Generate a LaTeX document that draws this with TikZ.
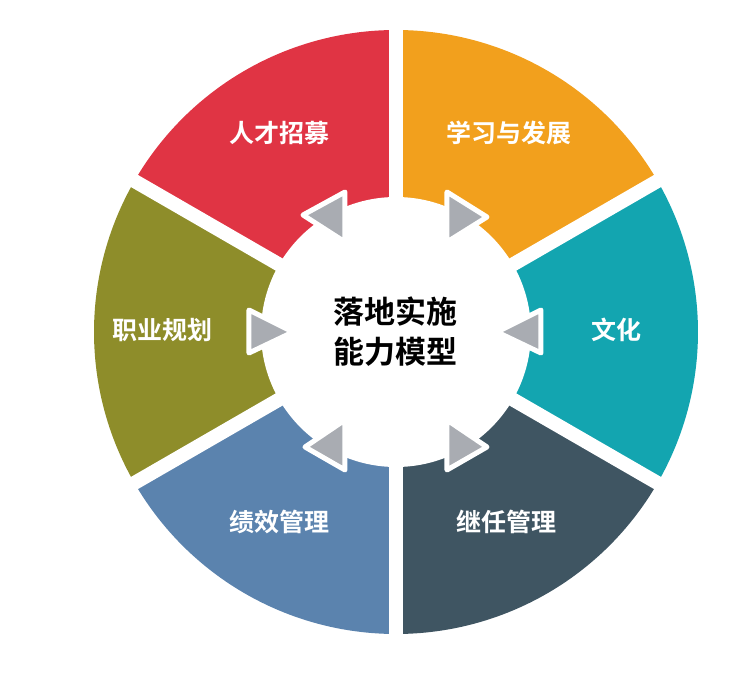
\documentclass[tikz,border=0pt]{standalone}
\usepackage{fontspec}
\newfontfamily\cjk{Noto Sans CJK SC Bold}
\definecolor{segred}{HTML}{E03444}
\definecolor{segorange}{HTML}{F2A01D}
\definecolor{segteal}{HTML}{13A5B0}
\definecolor{segdark}{HTML}{3F5562}
\definecolor{segblue}{HTML}{5B83AE}
\definecolor{segolive}{HTML}{8E8D2A}
\definecolor{tri}{HTML}{A9ACB2}
\tikzset{
  seglabel/.style={text=white,font=\cjk\fontsize{25}{30}\selectfont},
  tribox/.style={fill=tri,draw=white,line width=5pt,line join=round}
}
\begin{document}
\begin{tikzpicture}[x=1pt,y=1pt]
            \useasboundingbox (-396,-345) rectangle (336,332);
            % ring segments
            \foreach \a/\c in {30/segorange,90/segred,150/segolive,210/segblue,270/segdark,330/segteal}
                \fill[\c] (\a:302) arc[start angle=\a,delta angle=60,radius=302] -- (0,0) -- cycle;
            \foreach \a in {30,90,...,330}
                \draw[white,line width=14pt] (0,0) -- (\a:320);
            \fill[white] (0,0) circle[radius=135];

            % arrows
            \draw[tribox] (-51,140) -- (-51,90) -- (-93,117) -- cycle;
            \draw[tribox] (51,140) -- (51,90) -- (91,115) -- cycle;
            \draw[tribox] (-147,22) -- (-147,-21) -- (-103,0) -- cycle;
            \draw[tribox] (145,22) -- (145,-21) -- (101,0) -- cycle;
            \draw[tribox] (-51,-88) -- (-51,-138) -- (-91,-115) -- cycle;
            \draw[tribox] (51,-88) -- (51,-138) -- (91,-115) -- cycle;

            \node[seglabel] (recruit) at (-116,199) {人才招募};
            \node[seglabel] (learn) at (113,199) {学习与发展};
            \node[seglabel] (culture) at (221,2) {文化};
            \node[seglabel] (succession) at (111,-190) {继任管理};
            \node[seglabel] (performance) at (-116,-190) {绩效管理};
            \node[seglabel] (career) at (-233,2) {职业规划};
            \node[font=\cjk\fontsize{31}{40}\selectfont,align=center] (core) at (0,0) {落地实施\\能力模型};
        \end{tikzpicture}
\end{document}
